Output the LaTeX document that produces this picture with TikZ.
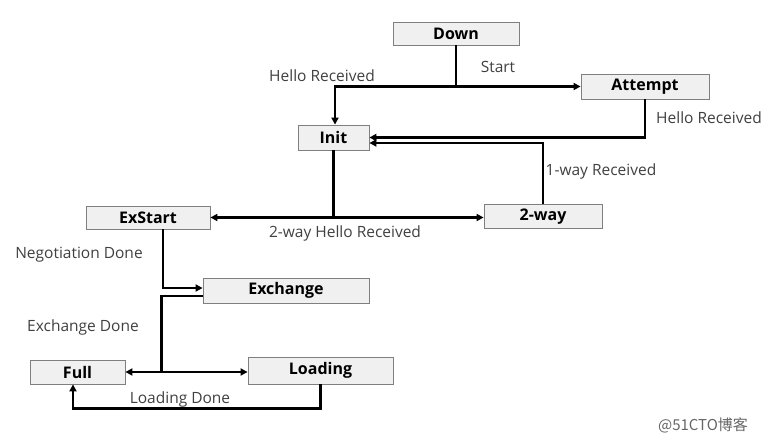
\documentclass[tikz,border=0pt]{standalone}
\usepackage{fontspec}
\setmainfont{Open Sans}
\newfontfamily\cjk{Noto Sans CJK SC}
\usetikzlibrary{arrows.meta}
\definecolor{boxfill}{HTML}{F0F0F0}
\definecolor{boxline}{HTML}{7F7F7F}
\definecolor{labtext}{HTML}{404040}
\begin{document}
\begin{tikzpicture}[x=1pt,y=-1pt,
  statebox/.style={draw=boxline,fill=boxfill,line width=0.8pt,inner sep=0pt,font=\fontsize{16}{18}\selectfont\bfseries},
  conn/.style={line width=2.4pt,-{Triangle[length=7pt,width=7pt]}},
  plain/.style={line width=2.4pt},
  lab/.style={text=labtext,font=\fontsize{15.5}{17}\selectfont,inner sep=0pt}]
\useasboundingbox (0,0) rectangle (770,441);
% states
\node[statebox,minimum width=126pt,minimum height=23pt] (down) at (456,33.5) {Down};
\node[statebox,minimum width=128pt,minimum height=25pt] (attempt) at (645,86.5) {Attempt};
\node[statebox,minimum width=71pt,minimum height=25pt] (init) at (333.5,137.5) {Init};
\node[statebox,minimum width=124pt,minimum height=23pt] (exstart) at (148,217.5) {ExStart};
\node[statebox,minimum width=118pt,minimum height=24pt] (twoway) at (543,216.5) {2-way};
\node[statebox,minimum width=166pt,minimum height=25pt] (exchange) at (286,290.5) {Exchange};
\node[statebox,minimum width=95pt,minimum height=24pt] (full) at (77.5,372) {Full};
\node[statebox,minimum width=145pt,minimum height=27pt] (loading) at (320.5,370.5) {Loading};
% junctions
\coordinate (j0) at (down.south |- attempt.west);
\coordinate (j1) at (init.south |- exstart.east);
\coordinate (j2) at ([xshift=-41pt,yshift=-5.5pt]exchange.west);
\coordinate (j3) at (j2 |- full.east);
% connectors
\draw[plain] (down.south) -- (j0);
\draw[conn] (j0) -- (attempt.west);
\draw[conn] (j0) -| ([xshift=1.5pt]init.north);
\draw[conn] (attempt.south) |- (init.east);
\draw[conn] (twoway.north) |- ([yshift=-5.5pt]init.east);
\draw[plain] (init.south) -- (j1);
\draw[conn] (j1) -- (exstart.east);
\draw[conn] (j1) -- (j1 -| twoway.west);
\draw[conn] ([xshift=15pt]exstart.south) |- ([yshift=2.5pt]exchange.west);
\draw[plain] ([yshift=-5.5pt]exchange.west) -| (j3);
\draw[conn] (j3) -- (full.east);
\draw[conn] (j3) -- (j3 -| loading.west);
\draw[conn] (loading.south) -- ++(0,24) -| ([xshift=-4.5pt]full.south);
% labels
\node[lab] (lstart) at (498,67) {Start};
\node[lab] (lhello1) at (322,76) {Hello Received};
\node[lab] (lhello2) at (709,118) {Hello Received};
\node[lab] (l1way) at (601,171) {1-way Received};
\node[lab] (l2way) at (345,233) {2-way Hello Received};
\node[lab] (lneg) at (79,255) {Negotiation Done};
\node[lab] (lexd) at (83,327) {Exchange Done};
\node[lab] (lload) at (180,399) {Loading Done};
\node[text=labtext!80,font=\cjk\fontsize{15}{17}\selectfont,inner sep=0pt] (wm) at (703,425) {@51CTO博客};
\end{tikzpicture}
\end{document}
